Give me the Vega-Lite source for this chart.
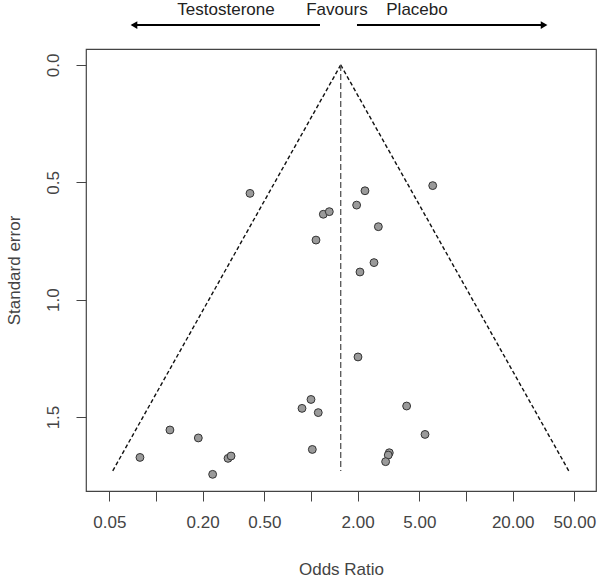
{
  "$schema": "https://vega.github.io/schema/vega-lite/v6.json",
  "width": 510,
  "height": 442,
  "autosize": {"type": "none"},
  "padding": {"left": 86, "top": 49, "right": 4, "bottom": 91},
  "background": "white",
  "config": {
    "view": {"stroke": "#444", "strokeWidth": 1.2},
    "font": "Liberation Sans",
    "axis": {
      "domain": false,
      "grid": false,
      "tickColor": "#444",
      "tickSize": 10,
      "labelFont": "Liberation Sans",
      "labelFontSize": 17,
      "labelColor": "#444",
      "titleFont": "Liberation Sans",
      "titleFontSize": 17,
      "titleFontWeight": "normal",
      "titleColor": "#444",
      "labelOverlap": false,
      "labelFlush": false
    }
  },
  "datasets": {
    "studies": [
      {"or": 0.404, "se": 0.547},
      {"or": 1.201, "se": 0.636},
      {"or": 1.313, "se": 0.625},
      {"or": 1.077, "se": 0.746},
      {"or": 2.23, "se": 0.536},
      {"or": 1.97, "se": 0.597},
      {"or": 6.10, "se": 0.514},
      {"or": 2.72, "se": 0.689},
      {"or": 2.55, "se": 0.842},
      {"or": 2.07, "se": 0.882},
      {"or": 2.01, "se": 1.244},
      {"or": 0.0788, "se": 1.672},
      {"or": 0.123, "se": 1.555},
      {"or": 0.1875, "se": 1.589},
      {"or": 0.232, "se": 1.744},
      {"or": 0.2915, "se": 1.676},
      {"or": 0.305, "se": 1.666},
      {"or": 0.875, "se": 1.463},
      {"or": 1.0, "se": 1.425},
      {"or": 1.114, "se": 1.481},
      {"or": 1.02, "se": 1.638},
      {"or": 4.14, "se": 1.453},
      {"or": 5.44, "se": 1.574},
      {"or": 3.20, "se": 1.652},
      {"or": 3.15, "se": 1.662},
      {"or": 3.03, "se": 1.69}
    ],
    "funnel": [
      {"side": "L", "or": 0.0525, "se": 1.73},
      {"side": "L", "or": 1.555, "se": 0},
      {"side": "R", "or": 1.555, "se": 0},
      {"side": "R", "or": 46.1, "se": 1.73}
    ],
    "center": [
      {"or": 1.555, "se": 0, "se2": 1.73}
    ],
    "labels": [
      {"label": "Testosterone", "or": 0.283, "se": -0.213},
      {"label": "Favours", "or": 1.47, "se": -0.213},
      {"label": "Placebo", "or": 4.83, "se": -0.213}
    ],
    "shafts": [
      {"dir": "left", "or": 1.143, "or2": 0.07, "se": -0.170},
      {"dir": "right", "or": 1.98, "or2": 32.5, "se": -0.170}
    ],
    "heads": [
      {"dir": "left", "or": 0.0721, "se": -0.170},
      {"dir": "right", "or": 31.9, "se": -0.170}
    ]
  },
  "encoding": {
    "x": {
      "field": "or",
      "type": "quantitative",
      "scale": {"type": "log", "domain": [0.03535, 68.99], "nice": false, "zero": false},
      "axis": {
        "title": "Odds Ratio",
        "values": [0.05, 0.1, 0.2, 0.5, 1, 2, 5, 10, 20, 50],
        "labelExpr": "indexof([0.1, 1, 10], datum.value) >= 0 ? '' : format(datum.value, '.2f')",
        "labelPadding": 13,
        "titleX": 255,
        "titleY": 83,
        "titleBaseline": "alphabetic",
        "titleAlign": "center"
      }
    },
    "y": {
      "field": "se",
      "type": "quantitative",
      "scale": {"domain": [-0.068, 1.815], "reverse": true, "nice": false, "zero": false},
      "axis": {
        "title": "Standard error",
        "values": [0, 0.5, 1, 1.5],
        "format": ".1f",
        "labelAngle": 270,
        "labelAlign": "center",
        "labelBaseline": "alphabetic",
        "labelPadding": 18,
        "titleAngle": 270,
        "titleX": -72,
        "titleY": 221,
        "titleAlign": "center",
        "titleBaseline": "middle"
      }
    }
  },
  "layer": [
    {
      "data": {"name": "funnel"},
      "mark": {"type": "line", "color": "#111", "strokeWidth": 1.4, "strokeDash": [4, 2.5]},
      "encoding": {"detail": {"field": "side"}, "order": {"field": "se"}}
    },
    {
      "data": {"name": "center"},
      "mark": {"type": "rule", "color": "#555", "strokeWidth": 1.3, "strokeDash": [6, 3]},
      "encoding": {"y2": {"field": "se2"}}
    },
    {
      "data": {"name": "studies"},
      "mark": {"type": "point", "filled": true, "fill": "#9a9a9a", "stroke": "#333", "strokeWidth": 1, "size": 62, "opacity": 1}
    },
    {
      "data": {"name": "labels"},
      "mark": {"type": "text", "fontSize": 17, "font": "Liberation Sans", "color": "#222", "baseline": "alphabetic", "align": "center"},
      "encoding": {"text": {"field": "label"}}
    },
    {
      "data": {"name": "shafts"},
      "mark": {"type": "rule", "color": "#000", "strokeWidth": 2},
      "encoding": {"x2": {"field": "or2"}}
    },
    {
      "data": {"name": "heads"},
      "mark": {"type": "point", "filled": true, "color": "#000", "size": 60, "opacity": 1},
      "encoding": {
        "shape": {"field": "dir", "type": "nominal", "scale": {"domain": ["left", "right"], "range": ["triangle-left", "triangle-right"]}, "legend": null}
      }
    }
  ]
}
